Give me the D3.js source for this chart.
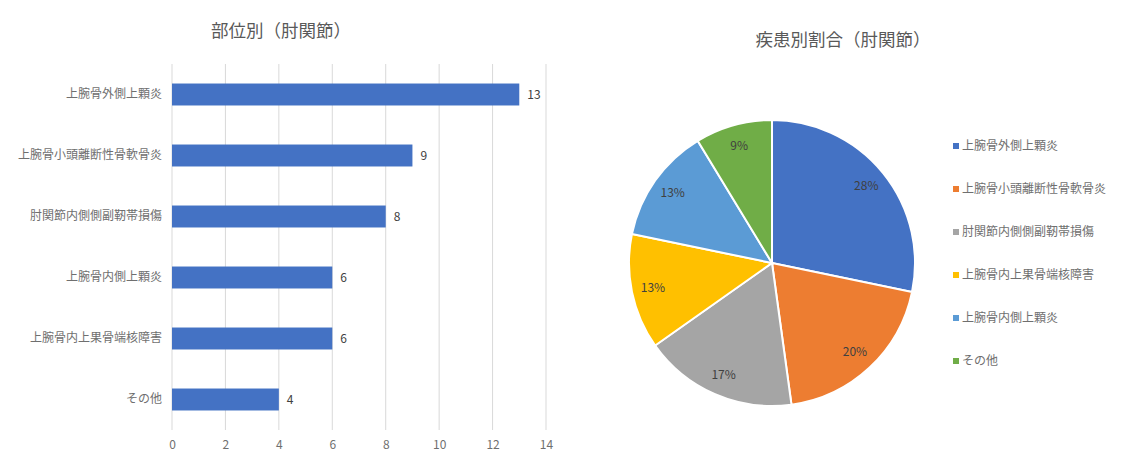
<!DOCTYPE html>
<html>
<head>
<meta charset="utf-8">
<script src="https://cdn.jsdelivr.net/npm/d3@7"></script>
<style>
  body { margin: 0; background: #fff; }
  text { font-family: "Noto Sans CJK JP", "Noto Sans", sans-serif; }
</style>
</head>
<body>
<div id="chart"></div>
<script>
// bar chart data (top to bottom)
const barCategories = ['上腕骨外側上顆炎', '上腕骨小頭離断性骨軟骨炎', '肘関節内側側副靭帯損傷', '上腕骨内側上顆炎', '上腕骨内上果骨端核障害', 'その他'];
const barValues = [13, 9, 8, 6, 6, 4];
const xTicks = [0, 2, 4, 6, 8, 10, 12, 14];

// pie data (clockwise from top)
const pieCategories = ['上腕骨外側上顆炎', '上腕骨小頭離断性骨軟骨炎', '肘関節内側側副靭帯損傷', '上腕骨内上果骨端核障害', '上腕骨内側上顆炎', 'その他'];
const pieValues = [13, 9, 8, 6, 6, 4];
const pieColors = ['#4472C4', '#ED7D31', '#A5A5A5', '#FFC000', '#5B9BD5', '#70AD47'];

const width = 1121, height = 467;
const svg = d3.select('#chart').append('svg')
    .attr('width', width)
    .attr('height', height);

// ---- bar chart ----
const margin = {top: 64, left: 172, right: 575, bottom: 37};

const x = d3.scaleLinear()
    .domain([0, 14])
    .range([margin.left, width - margin.right]);

const y = d3.scaleBand()
    .domain(barCategories)
    .range([margin.top, height - margin.bottom])
    .paddingInner(0.64)
    .paddingOuter(0.32);

svg.append('text')
    .attr('x', 281)
    .attr('y', 37)
    .attr('text-anchor', 'middle')
    .attr('font-size', 17.5)
    .attr('fill', '#595959')
    .text('部位別（肘関節）');

const grid = svg.append('g');
grid.selectAll('line')
    .data(xTicks)
    .enter()
    .append('line')
    .attr('x1', d => x(d))
    .attr('x2', d => x(d))
    .attr('y1', margin.top)
    .attr('y2', height - margin.bottom)
    .attr('stroke', '#d9d9d9')
    .attr('stroke-width', 1);

const xAxis = d3.axisBottom(x)
    .tickValues(xTicks)
    .tickSize(0)
    .tickPadding(10);

svg.append('g')
    .attr('transform', `translate(0,${height - margin.bottom})`)
    .call(xAxis)
    .call(g => g.select('.domain').remove())
    .selectAll('text')
    .attr('font-size', 12)
    .attr('fill', '#6f6f6f');

const yAxis = d3.axisLeft(y)
    .tickSize(0)
    .tickPadding(10);

svg.append('g')
    .attr('transform', `translate(${margin.left},0)`)
    .call(yAxis)
    .call(g => g.select('.domain').remove())
    .selectAll('text')
    .attr('font-size', 12)
    .attr('fill', '#6f6f6f');

svg.append('g').selectAll('rect')
    .data(barValues)
    .enter()
    .append('rect')
    .attr('x', x(0))
    .attr('y', (d, i) => y(barCategories[i]))
    .attr('width', d => x(d) - x(0))
    .attr('height', y.bandwidth())
    .attr('fill', '#4472C4');

svg.append('g').selectAll('text')
    .data(barValues)
    .enter()
    .append('text')
    .attr('x', d => x(d) + 8)
    .attr('y', (d, i) => y(barCategories[i]) + y.bandwidth() / 2)
    .attr('dy', '0.35em')
    .attr('font-size', 12)
    .attr('fill', '#404040')
    .text(d => d);

// ---- pie chart ----
const cx = 772, cy = 263, radius = 143;
const total = d3.sum(pieValues);

svg.append('text')
    .attr('x', 843)
    .attr('y', 46)
    .attr('text-anchor', 'middle')
    .attr('font-size', 17.5)
    .attr('fill', '#595959')
    .text('疾患別割合（肘関節）');

const pie = d3.pie().sort(null).value(d => d);
const arcs = pie(pieValues);
const arc = d3.arc().innerRadius(0).outerRadius(radius);
const labelArc = d3.arc().innerRadius(radius * 0.85).outerRadius(radius * 0.85);

const pieG = svg.append('g').attr('transform', `translate(${cx},${cy})`);

pieG.selectAll('path')
    .data(arcs)
    .enter()
    .append('path')
    .attr('d', arc)
    .attr('fill', (d, i) => pieColors[i])
    .attr('stroke', '#fff')
    .attr('stroke-width', 2);

pieG.selectAll('text')
    .data(arcs)
    .enter()
    .append('text')
    .attr('transform', d => `translate(${labelArc.centroid(d)})`)
    .attr('text-anchor', 'middle')
    .attr('dy', '0.35em')
    .attr('font-size', 12)
    .attr('fill', '#404040')
    .text(d => Math.round(d.value / total * 100) + '%');

// legend
const legend = svg.append('g').attr('transform', 'translate(953,146)');
const item = legend.selectAll('g')
    .data(pieCategories)
    .enter()
    .append('g')
    .attr('transform', (d, i) => `translate(0,${i * 43})`);

item.append('rect')
    .attr('x', 0)
    .attr('y', -3)
    .attr('width', 6)
    .attr('height', 6)
    .attr('fill', (d, i) => pieColors[i]);

item.append('text')
    .attr('x', 9)
    .attr('dy', '0.35em')
    .attr('font-size', 12)
    .attr('fill', '#6f6f6f')
    .text(d => d);
</script>
</body>
</html>
